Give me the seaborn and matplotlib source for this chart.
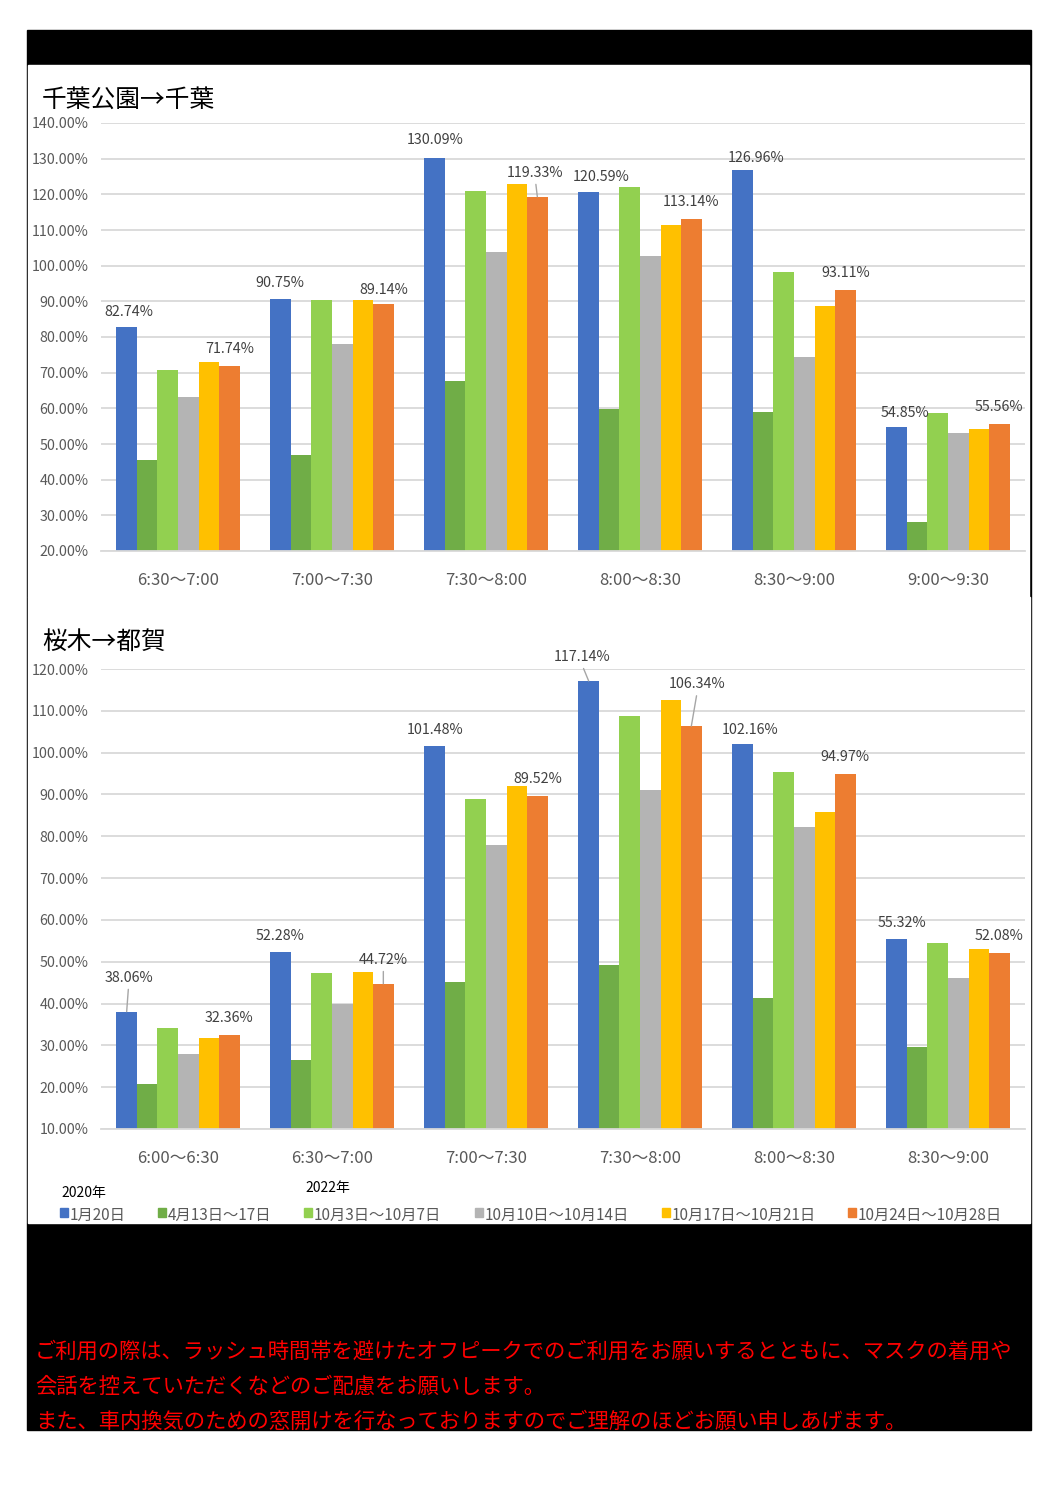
import matplotlib
matplotlib.use("Agg")
import matplotlib.pyplot as plt
from matplotlib.patches import Rectangle
import seaborn as sns
import pandas as pd

# ---------------- data ----------------
series = ["1月20日", "4月13日～17日", "10月3日～10月7日", "10月10日～10月14日",
          "10月17日～10月21日", "10月24日～10月28日"]
colors = ["#4472C4", "#70AD47", "#92D050", "#B4B4B4", "#FFC000", "#ED7D31"]

top_title = "千葉公園→千葉"
top_times = ["6:30～7:00", "7:00～7:30", "7:30～8:00", "8:00～8:30", "8:30～9:00", "9:00～9:30"]
top_jan20 = [82.74, 90.75, 130.09, 120.59, 126.96, 54.85]
top_apr = [45.5, 46.8, 67.7, 59.9, 59.1, 28.1]
top_oct3 = [70.8, 90.4, 120.8, 122.1, 98.2, 58.6]
top_oct10 = [63.2, 78.0, 103.9, 102.7, 74.5, 53.2]
top_oct17 = [72.9, 90.4, 122.9, 111.3, 88.8, 54.2]
top_oct24 = [71.74, 89.14, 119.33, 113.14, 93.11, 55.56]

bot_title = "桜木→都賀"
bot_times = ["6:00～6:30", "6:30～7:00", "7:00～7:30", "7:30～8:00", "8:00～8:30", "8:30～9:00"]
bot_jan20 = [38.06, 52.28, 101.48, 117.14, 102.16, 55.32]
bot_apr = [20.7, 26.6, 45.2, 49.3, 41.4, 29.5]
bot_oct3 = [34.2, 47.4, 89.0, 108.8, 95.3, 54.5]
bot_oct10 = [27.9, 40.0, 77.9, 91.0, 82.1, 46.2]
bot_oct17 = [31.7, 47.6, 92.0, 112.5, 85.7, 53.1]
bot_oct24 = [32.36, 44.72, 89.52, 106.34, 94.97, 52.08]

top_yticks = list(range(20, 141, 10))
bot_yticks = list(range(10, 121, 10))

notice = ["ご利用の際は、ラッシュ時間帯を避けたオフピークでのご利用をお願いするとともに、マスクの着用や",
          "会話を控えていただくなどのご配慮をお願いします。",
          "また、車内換気のための窓開けを行なっておりますのでご理解のほどお願い申しあげます。"]

# ---------------- style ----------------
sns.set_theme(style="white")
plt.rcParams["font.family"] = ["Noto Sans CJK JP", "DejaVu Sans"]

W, H = 1058, 1496
fig = plt.figure(figsize=(W / 100, H / 100), dpi=100)
fig.patch.set_facecolor("white")

def fx(x): return x / W
def fy(y): return 1 - y / H

# background blocks
fig.add_artist(Rectangle((fx(27), fy(1430)), fx(1031) - fx(27), fy(30) - fy(1430),
                         transform=fig.transFigure, color="black", zorder=-20))
fig.add_artist(Rectangle((fx(28), fy(597)), fx(1029) - fx(28), fy(65) - fy(597),
                         transform=fig.transFigure, color="white", zorder=-19))
fig.add_artist(Rectangle((fx(28), fy(1223)), fx(1030) - fx(28), fy(597) - fy(1223),
                         transform=fig.transFigure, color="white", zorder=-19))

def make_df(times, vals):
    rows = []
    for s, v in zip(series, vals):
        for t, x in zip(times, v):
            rows.append({"time": t, "period": s, "value": x})
    return pd.DataFrame(rows)

top_df = make_df(top_times, [top_jan20, top_apr, top_oct3, top_oct10, top_oct17, top_oct24])
bot_df = make_df(bot_times, [bot_jan20, bot_apr, bot_oct3, bot_oct10, bot_oct17, bot_oct24])

# label offsets (pixels) and leader flags: (dx, dy, leader)
top_blue_off = [(2, 15, 0), (-1, 16, 0), (0, 18, 0), (12, 15, 0), (13, 12, 0), (8, 14, 0)]
top_orng_off = [(0, 17, 0), (0, 14, 0), (-2, 24, 1), (0, 17, 0), (0, 17, 0), (0, 17, 0)]
bot_blue_off = [(2, 34, 1), (-1, 16, 0), (0, 16, 0), (-7, 24, 1), (7, 14, 0), (5, 16, 0)]
bot_orng_off = [(0, 17, 0), (0, 24, 1), (0, 17, 0), (6, 42, 1), (0, 17, 0), (0, 17, 0)]

def draw(df, times, yticks, ypix, title, title_y, offs):
    top_px, bot_px = ypix
    ax = fig.add_axes([fx(101), fy(bot_px), fx(1025) - fx(101), fy(top_px) - fy(bot_px)])
    ax.set_facecolor("none")
    sns.barplot(data=df, x="time", y="value", hue="period", hue_order=series, order=times,
                palette=colors, width=0.8, saturation=1, ax=ax, legend=False,
                linewidth=0, errorbar=None)
    ax.set_ylim(yticks[0], yticks[-1])
    ax.set_xlim(-0.5, len(times) - 0.5)
    ax.set_yticks(yticks)
    ax.set_yticklabels([f"{t:.2f}%" for t in yticks])
    ax.yaxis.grid(True, color="#D9D9D9", lw=1.3)
    ax.set_axisbelow(True)
    for sp in ["left", "right", "top"]:
        ax.spines[sp].set_visible(False)
    ax.spines["bottom"].set_color("#D9D9D9")
    ax.spines["bottom"].set_linewidth(1.3)
    ax.tick_params(axis="y", length=0, pad=9, labelsize=10.3, labelcolor="#595959")
    ax.tick_params(axis="x", length=0, pad=15, labelsize=12, labelcolor="#595959")
    ax.set_xlabel("")
    ax.set_ylabel("")
    for ci, off in zip([0, 5], offs):
        for bar, (dx, dy, lead) in zip(ax.containers[ci], off):
            v = bar.get_height()
            xc = bar.get_x() + bar.get_width() / 2
            kw = {}
            if lead:
                kw["arrowprops"] = dict(arrowstyle="-", color="#A6A6A6", lw=1,
                                        shrinkA=1, shrinkB=0, relpos=(0.5, 0))
            ax.annotate(f"{v:.2f}%", xy=(xc, v), xytext=(dx, dy), textcoords="offset pixels",
                        ha="center", va="center", fontsize=10.3, color="#404040", **kw)
    fig.text(fx(42), fy(title_y), title, fontsize=17.8, color="black", va="center", ha="left")
    return ax

draw(top_df, top_times, top_yticks, (123, 551), top_title, 100,
     [top_blue_off, top_orng_off])
draw(bot_df, bot_times, bot_yticks, (669, 1129), bot_title, 642,
     [bot_blue_off, bot_orng_off])

# legend
fig.text(fx(61), fy(1193), "2020年", fontsize=10, color="black", va="center", ha="left")
fig.text(fx(305), fy(1188), "2022年", fontsize=10, color="black", va="center", ha="left")
leg_x = [60, 158, 304, 475, 662, 848]
for x, c, s in zip(leg_x, colors, series):
    fig.add_artist(Rectangle((fx(x), fy(1217)), 8 / W, 9 / H, transform=fig.transFigure,
                             color=c, zorder=5))
    fig.text(fx(x + 10), fy(1215), s, fontsize=11, color="#595959", va="center", ha="left")

# notice
for i, line in enumerate(notice):
    fig.text(fx(35), fy(1352 + 35 * i), line, fontsize=15.35, color="#FF0000",
             va="center", ha="left")

fig.savefig("out.png", dpi=100)
